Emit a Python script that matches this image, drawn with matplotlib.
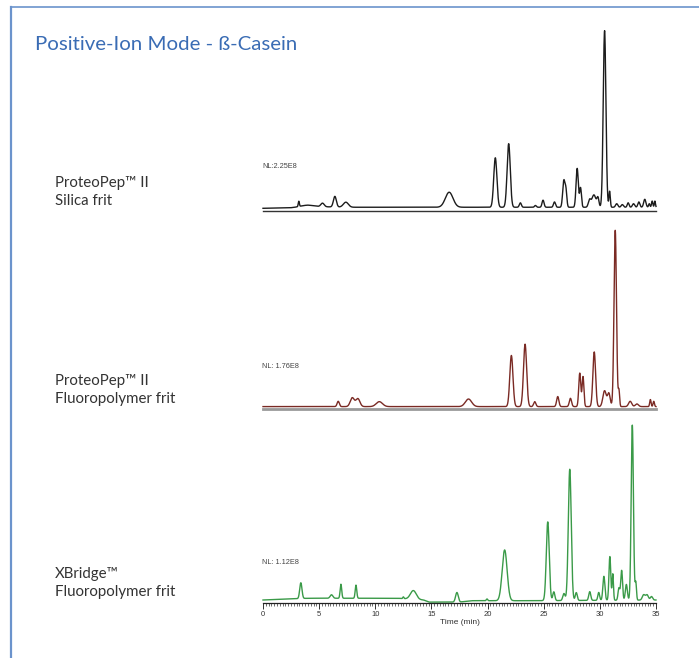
import numpy as np
import matplotlib
matplotlib.use("Agg")
import matplotlib.pyplot as plt
from matplotlib.lines import Line2D
from matplotlib.ticker import MultipleLocator

# Peak tables: retention time (min), relative height, width (sigma, min)
silica_rt = [3.19, 3.9, 5.3, 6.4, 7.38, 16.58, 20.69, 21.88, 22.92, 24.26, 24.94, 25.96,
             26.79, 26.98, 27.98, 28.28, 29.08, 29.47, 29.83, 30.42, 30.87,
             31.5, 32.0, 32.52, 33.0, 33.47, 34.0, 34.4, 34.66, 34.9]
silica_h = [0.03, 0.008, 0.02, 0.06, 0.028, 0.085, 0.28, 0.36, 0.025, 0.01, 0.04, 0.03,
            0.15, 0.09, 0.22, 0.11, 0.04, 0.07, 0.05, 1.0, 0.09,
            0.02, 0.015, 0.025, 0.02, 0.03, 0.045, 0.02, 0.035, 0.035]
silica_w = [0.05, 0.6, 0.15, 0.13, 0.22, 0.34, 0.14, 0.14, 0.09, 0.08, 0.09, 0.09,
            0.1, 0.08, 0.1, 0.08, 0.11, 0.18, 0.09, 0.12, 0.06,
            0.1, 0.1, 0.08, 0.1, 0.09, 0.1, 0.06, 0.06, 0.05]

fluoro_rt = [6.7, 7.95, 8.45, 10.36, 18.3, 22.12, 23.34, 24.2, 26.25, 27.38, 28.21, 28.5,
             29.5, 30.42, 30.8, 31.37, 31.7, 32.7, 33.3, 34.5, 34.8]
fluoro_h = [0.03, 0.05, 0.045, 0.028, 0.043, 0.29, 0.354, 0.028, 0.057, 0.047, 0.19, 0.17,
            0.31, 0.09, 0.075, 1.0, 0.09, 0.03, 0.015, 0.04, 0.03]
fluoro_w = [0.1, 0.18, 0.18, 0.28, 0.28, 0.14, 0.14, 0.1, 0.1, 0.1, 0.09, 0.08,
            0.12, 0.15, 0.12, 0.11, 0.06, 0.14, 0.14, 0.06, 0.06]

xbridge_rt = [3.37, 6.1, 6.94, 8.28, 12.5, 13.39, 17.27, 19.95, 21.52, 25.36, 25.9, 26.8,
              27.32, 27.9, 29.1, 29.9, 30.36, 30.89, 31.15, 31.7, 31.94, 32.36, 32.89,
              33.2, 33.9, 34.2, 34.6]
xbridge_h = [0.09, 0.02, 0.08, 0.075, 0.01, 0.05, 0.055, 0.01, 0.29, 0.45, 0.05, 0.04,
             0.75, 0.045, 0.05, 0.045, 0.137, 0.25, 0.15, 0.07, 0.17, 0.09, 1.0,
             0.1, 0.03, 0.03, 0.02]
xbridge_w = [0.1, 0.12, 0.07, 0.07, 0.05, 0.26, 0.12, 0.06, 0.22, 0.13, 0.09, 0.1,
             0.13, 0.09, 0.09, 0.08, 0.09, 0.08, 0.06, 0.08, 0.08, 0.09, 0.1,
             0.06, 0.12, 0.12, 0.1]

# small baseline drift (time, level)
silica_base_t = [0, 2.5, 4, 8, 35]
silica_base_y = [0.0, 0.003, 0.01, 0.006, 0.006]
fluoro_base_t = [0, 35]
fluoro_base_y = [0.004, 0.004]
xbridge_base_t = [0, 4, 12, 14.3, 14.8, 17.5, 18.5, 24, 35]
xbridge_base_y = [0.0, 0.01, 0.01, 0.0, -0.012, -0.012, -0.004, -0.004, 0.0]

labels = [["ProteoPep\u2122 II", "Silica frit"],
          ["ProteoPep\u2122 II", "Fluoropolymer frit"],
          ["XBridge\u2122", "Fluoropolymer frit"]]
nl_labels = ["NL:2.25E8", "NL: 1.76E8", "NL: 1.12E8"]
colors = ["#1c1c1c", "#7a2a24", "#3a9a48"]

W, H = 699, 658
fig = plt.figure(figsize=(W / 100, H / 100), dpi=100)
fig.patch.set_facecolor("white")


def fx(x):
    return x / W


def fy(y):
    return 1 - y / H


# frame lines
fig.add_artist(Line2D([fx(10.5), fx(10.5)], [fy(7), fy(658)], color="#6b93cc", lw=1.6))
fig.add_artist(Line2D([fx(10.5), fx(699)], [fy(7), fy(7)], color="#6b93cc", lw=1.2))

fig.text(fx(35), fy(45), "Positive-Ion Mode - \u00df-Casein",
         family="Lato", fontsize=14.7, color="#3a6cb4", va="center", ha="left")

t = np.linspace(0, 35, 4000)


def trace(rt, h, w, bt, by):
    y = np.interp(t, bt, by)
    for c, a, s in zip(rt, h, w):
        y = y + a * np.exp(-0.5 * ((t - c) / s) ** 2)
    return y


traces = [trace(silica_rt, silica_h, silica_w, silica_base_t, silica_base_y),
          trace(fluoro_rt, fluoro_h, fluoro_w, fluoro_base_t, fluoro_base_y),
          trace(xbridge_rt, xbridge_h, xbridge_w, xbridge_base_t, xbridge_base_y)]

# panel geometry in pixels: top of tallest peak, axis line, signal baseline
tops = [31.7, 231, 425]
axis_y = [210.7, 408.7, 603.3]
base_y = [208.3, 407.3, 600]
label_y = [192, 390, 583]
nl_y = [167, 366, 562]
x0, x1 = 263, 656

for i in range(3):
    ax = fig.add_axes([fx(x0), fy(axis_y[i]), (x1 - x0) / W, (axis_y[i] - tops[i]) / H])
    scale = base_y[i] - tops[i]
    ax.set_ylim(-(axis_y[i] - base_y[i]) / scale, 1.0)
    ax.set_xlim(0, 35)
    ax.plot(t, traces[i], color=colors[i], lw=1.0, clip_on=False)
    for s in ["top", "right", "left"]:
        ax.spines[s].set_visible(False)
    ax.set_yticks([])
    ax.patch.set_alpha(0)
    if i == 0:
        ax.spines["bottom"].set_color("#333333")
        ax.spines["bottom"].set_linewidth(1.0)
        ax.set_xticks([])
    elif i == 1:
        ax.spines["bottom"].set_color("#999999")
        ax.spines["bottom"].set_linewidth(2.0)
        ax.set_xticks([])
    else:
        ax.spines["bottom"].set_color("#222222")
        ax.spines["bottom"].set_linewidth(0.9)
        ax.xaxis.set_major_locator(MultipleLocator(5))
        ax.xaxis.set_minor_locator(MultipleLocator(0.25))
        ax.tick_params(axis="x", which="major", length=4, width=0.7, labelsize=5.5,
                       pad=1.5, colors="#333333")
        ax.tick_params(axis="x", which="minor", length=2, width=0.5, colors="#333333")
        ax.set_xlabel("Time (min)", fontsize=6, color="#333333", labelpad=1,
                      family="Liberation Sans")
        for lab in ax.get_xticklabels():
            lab.set_family("Liberation Sans")

    fig.text(fx(55), fy(label_y[i]), labels[i][0] + "\n" + labels[i][1],
             family="Lato", fontsize=10.8, color="#333333", va="center", ha="left",
             linespacing=1.45)
    fig.text(fx(262), fy(nl_y[i]), nl_labels[i], family="Liberation Sans",
             fontsize=5.3, color="#444444", va="center", ha="left")

fig.savefig("out.png", dpi=100)
